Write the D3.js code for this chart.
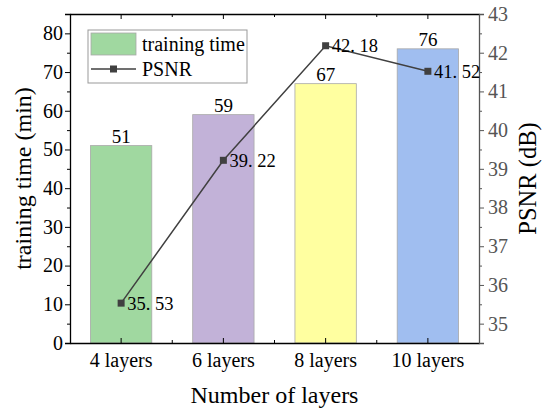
<!DOCTYPE html>
<html>
<head>
<meta charset="utf-8">
<script src="https://cdn.jsdelivr.net/npm/d3@7"></script>
<style>
  body { margin: 0; background: #fff; }
  text { font-family: "Liberation Serif", "Times New Roman", serif; }
</style>
</head>
<body>
<script>
  // data
  var layers = ["4 layers", "6 layers", "8 layers", "10 layers"];
  var trainTime = [51, 59, 67, 76];
  var psnr = [35.53, 39.22, 42.18, 41.52];
  var barColors = ["#a0d8a0", "#c2b2d8", "#ffffa0", "#a0bef0"];
  var leftTicks = [0, 10, 20, 30, 40, 50, 60, 70, 80];
  var rightTicks = [35, 36, 37, 38, 39, 40, 41, 42, 43];

  // Set the dimensions of the canvas / graph
  var margin = { top: 14, right: 71, bottom: 71, left: 70 },
    width = 550 - margin.left - margin.right,
    height = 414 - margin.top - margin.bottom;

  var lineColor = "#404040";

  var xRange = d3.scaleBand().domain(layers).range([0, width])
    .paddingInner(0.4).paddingOuter(0.2);
  var yLeft = d3.scaleLinear().domain([0, 85]).range([height, 0]);
  var yRight = d3.scaleLinear().domain([34.5, 43]).range([height, 0]);

  var svg = d3.select("body")
    .append("svg")
    .attr("width", 550)
    .attr("height", 414);
  var g = svg.append("g")
    .attr("transform", "translate(" + margin.left + "," + margin.top + ")");

  // bars
  g.selectAll("rect.bar")
    .data(trainTime)
    .enter().append("rect")
    .attr("class", "bar")
    .attr("x", function (d, i) { return xRange(layers[i]); })
    .attr("y", function (d) { return yLeft(d); })
    .attr("width", xRange.bandwidth())
    .attr("height", function (d) { return height - yLeft(d); })
    .attr("fill", function (d, i) { return barColors[i]; })
    .attr("stroke", "#a8a8a8")
    .attr("stroke-width", 0.8);

  g.selectAll("text.barlabel")
    .data(trainTime)
    .enter().append("text")
    .attr("class", "barlabel")
    .attr("x", function (d, i) { return xRange(layers[i]) + xRange.bandwidth() / 2; })
    .attr("y", function (d) { return yLeft(d) - 3; })
    .attr("text-anchor", "middle")
    .attr("font-size", 19)
    .text(function (d) { return d; });

  // axes
  var cx = function (i) { return xRange(layers[i]) + xRange.bandwidth() / 2; };
  var minorX = layers.slice(1).map(function (d, i) { return cx(i) + xRange.step() / 2; });

  var xBottom = g.append("g")
    .attr("transform", "translate(0," + height + ")")
    .call(d3.axisBottom(xRange).tickSizeInner(-5).tickSizeOuter(0).tickPadding(9.5));
  xBottom.selectAll("text").attr("font-size", 20).attr("fill", "#000");
  var xTop = g.append("g")
    .call(d3.axisTop(xRange).tickSizeInner(-5).tickSizeOuter(0).tickFormat(""));

  minorX.forEach(function (mx) {
    g.append("line").attr("x1", mx).attr("x2", mx).attr("y1", height).attr("y2", height - 3).attr("stroke", "#000");
    g.append("line").attr("x1", mx).attr("x2", mx).attr("y1", 0).attr("y2", 3).attr("stroke", "#000");
  });

  var yAxisL = g.append("g")
    .call(d3.axisLeft(yLeft).tickValues(leftTicks).tickSizeOuter(0).tickSize(5).tickPadding(2));
  yAxisL.selectAll("text").attr("font-size", 20).attr("fill", "#000");
  g.append("g")
    .call(d3.axisLeft(yLeft).tickValues(d3.range(5, 85, 10)).tickSize(3).tickSizeOuter(0).tickFormat(""))
    .select(".domain").remove();

  var yAxisR = g.append("g")
    .attr("transform", "translate(" + width + ",0)")
    .call(d3.axisRight(yRight).tickValues(rightTicks).tickSizeOuter(0).tickSize(5).tickPadding(4));
  yAxisR.selectAll("text").attr("font-size", 20).attr("fill", "#555");
  yAxisR.selectAll("line").attr("stroke", "#555");
  var minorR = g.append("g")
    .attr("transform", "translate(" + width + ",0)")
    .call(d3.axisRight(yRight).tickValues(d3.range(34.5, 43, 1)).tickSize(3).tickSizeOuter(0).tickFormat(""));
  minorR.select(".domain").remove();
  minorR.selectAll("line").attr("stroke", "#555");

  g.selectAll(".domain").attr("stroke-width", 1.3);
  yAxisR.select(".domain").attr("stroke", "#555");

  // PSNR line
  var valueline = d3.line()
    .x(function (d, i) { return cx(i); })
    .y(function (d) { return yRight(d); });

  g.append("path")
    .datum(psnr)
    .attr("d", valueline)
    .attr("fill", "none")
    .attr("stroke", lineColor)
    .attr("stroke-width", 1.5);

  g.selectAll("rect.pt")
    .data(psnr)
    .enter().append("rect")
    .attr("class", "pt")
    .attr("x", function (d, i) { return cx(i) - 3.5; })
    .attr("y", function (d) { return yRight(d) - 3.5; })
    .attr("width", 7)
    .attr("height", 7)
    .attr("fill", lineColor);

  g.selectAll("text.ptlabel")
    .data(psnr)
    .enter().append("text")
    .attr("class", "ptlabel")
    .attr("x", function (d, i) { return cx(i) + 6; })
    .attr("y", function (d) { return yRight(d); })
    .attr("dy", "0.36em")
    .attr("font-size", 18.5)
    .text(function (d) { return d.toFixed(2).replace(".", ". "); });

  // legend
  var lg = svg.append("g").attr("transform", "translate(88,30)");
  lg.append("rect")
    .attr("width", 159).attr("height", 53)
    .attr("fill", "#fff").attr("stroke", "#999").attr("stroke-width", 1);
  lg.append("rect")
    .attr("x", 3).attr("y", 3).attr("width", 45).attr("height", 22)
    .attr("fill", barColors[0]).attr("stroke", "#a8a8a8").attr("stroke-width", 0.8);
  lg.append("text").attr("x", 54).attr("y", 21).attr("font-size", 20).text("training time");
  lg.append("line")
    .attr("x1", 3).attr("x2", 48).attr("y1", 39).attr("y2", 39)
    .attr("stroke", lineColor).attr("stroke-width", 1.5);
  lg.append("rect")
    .attr("x", 22).attr("y", 35.5).attr("width", 7).attr("height", 7).attr("fill", lineColor);
  lg.append("text").attr("x", 54).attr("y", 46).attr("font-size", 20).text("PSNR");

  // axis titles
  svg.append("text")
    .attr("x", margin.left + width / 2)
    .attr("y", 403)
    .attr("text-anchor", "middle")
    .attr("font-size", 24)
    .text("Number of layers");

  svg.append("text")
    .attr("transform", "translate(31," + (margin.top + height / 2) + ") rotate(-90)")
    .attr("text-anchor", "middle")
    .attr("font-size", 24)
    .text("training time (min)");

  svg.append("text")
    .attr("transform", "translate(536," + (margin.top + height / 2) + ") rotate(-90)")
    .attr("text-anchor", "middle")
    .attr("font-size", 24.5)
    .text("PSNR (dB)");
</script>
</body>
</html>
